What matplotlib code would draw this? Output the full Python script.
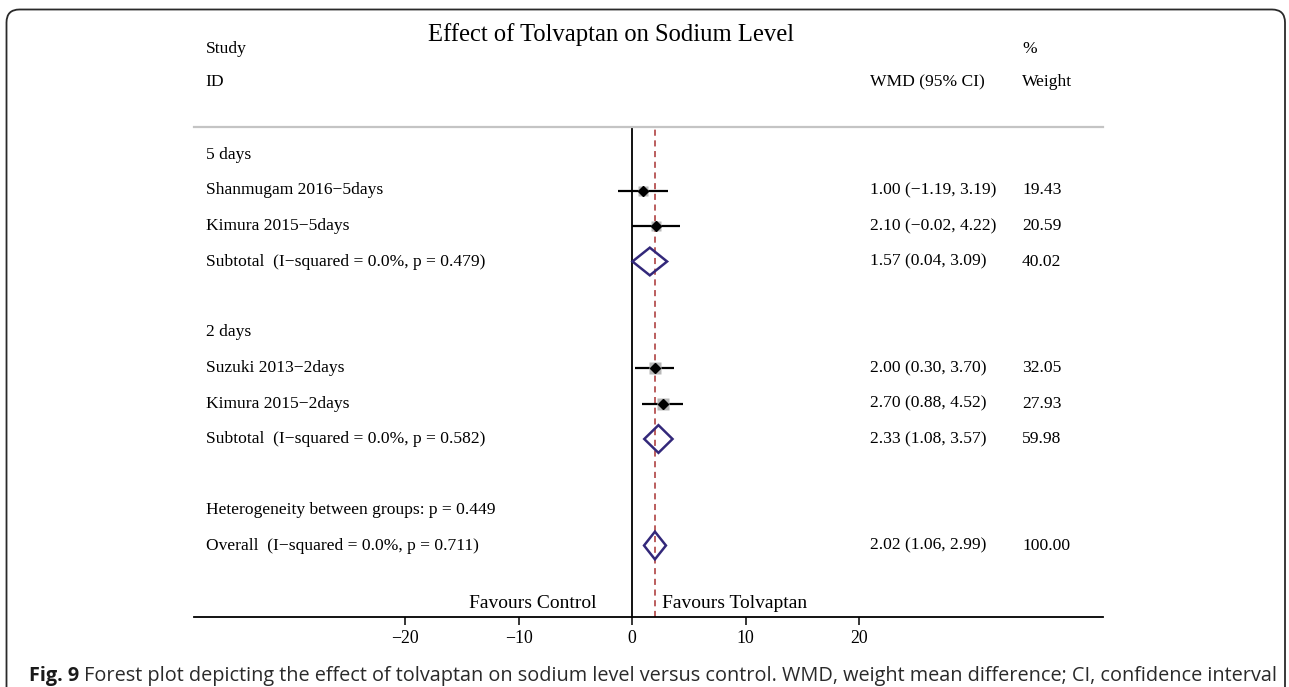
import numpy as np
import matplotlib
matplotlib.use('Agg')
import matplotlib.pyplot as plt
from matplotlib.patches import FancyBboxPatch, Polygon

plt.rcParams['font.family'] = ['Liberation Serif', 'DejaVu Serif']

# --- data ---
group_names = ['5 days', '2 days']
study_names = ['Shanmugam 2016−5days', 'Kimura 2015−5days',
               'Suzuki 2013−2days', 'Kimura 2015−2days']
study_group = [0, 0, 1, 1]
study_wmd = [1.00, 2.10, 2.00, 2.70]
study_lo = [-1.19, -0.02, 0.30, 0.88]
study_hi = [3.19, 4.22, 3.70, 4.52]
study_weight = [19.43, 20.59, 32.05, 27.93]

sub_labels = ['Subtotal  (I−squared = 0.0%, p = 0.479)',
              'Subtotal  (I−squared = 0.0%, p = 0.582)']
sub_wmd = [1.57, 2.33]
sub_lo = [0.04, 1.08]
sub_hi = [3.09, 3.57]
sub_weight = [40.02, 59.98]

het_label = 'Heterogeneity between groups: p = 0.449'
overall_label = 'Overall  (I−squared = 0.0%, p = 0.711)'
overall_wmd = 2.02
overall_lo = 1.06
overall_hi = 2.99
overall_weight = 100.00

xticks = [-20, -10, 0, 10, 20]

NAVY = '#33287a'
MAROON = '#a83232'
FS = 12.6


def ci_text(m, lo, hi):
    s = f"{m:.2f} ({lo:.2f}, {hi:.2f})"
    return s.replace('-', '−')


fig = plt.figure(figsize=(12.89, 6.87), dpi=100)
W, H = 1289, 687

# rounded frame (bottom edge falls outside the picture)
frame = FancyBboxPatch((6.5 / 100, -0.3), (1285 - 6.5) / 100, (H - 9.5) / 100 + 0.3,
                       boxstyle='round,pad=0,rounding_size=0.13',
                       transform=fig.dpi_scale_trans, facecolor='none',
                       edgecolor='#2a2a2a', linewidth=1.3)
fig.add_artist(frame)

ax = fig.add_axes([194 / W, (H - 617) / H, 909 / W, 490 / H])
px_per_unit = 11.35
ax.set_xlim((194 - 632) / px_per_unit, (1103 - 632) / px_per_unit)
row_px = 35.5
ax.set_ylim((617 - 155) / row_px, (127 - 155) / row_px)

for s in ['left', 'right']:
    ax.spines[s].set_visible(False)
ax.spines['top'].set_color('#c4c4c4')
ax.spines['top'].set_linewidth(1.6)
ax.spines['bottom'].set_linewidth(1.3)
ax.set_yticks([])
ax.set_xticks(xticks)
ax.tick_params(axis='x', direction='out', length=6, width=1.1, labelsize=12.8, pad=3.5)

ax.axvline(0, color='black', lw=1.3, zorder=2)
ax.axvline(overall_wmd, color=MAROON, lw=1.1, ls=(0, (4, 3)), zorder=2)

tx = ax.get_yaxis_transform()  # x in axes fraction, y in data
col_label, col_ci, col_w = 0.0129, 0.7442, 0.9109


def row_text(y, label, ci=None, w=None):
    ax.text(col_label, y, label, transform=tx, fontsize=FS, va='center', ha='left', clip_on=False)
    if ci is not None:
        ax.text(col_ci, y, ci, transform=tx, fontsize=FS, va='center', ha='left', clip_on=False)
    if w is not None:
        ax.text(col_w, y, f"{w:.2f}", transform=tx, fontsize=FS, va='center', ha='left', clip_on=False)


def diamond(y, m, lo, hi):
    h = 0.39
    ax.add_patch(Polygon([(lo, y), (m, y - h), (hi, y), (m, y + h)], closed=True,
                         fill=False, edgecolor=NAVY, linewidth=1.8, zorder=4))


y = 0
for g, gname in enumerate(group_names):
    row_text(y, gname)
    y += 1
    for i in range(len(study_names)):
        if study_group[i] != g:
            continue
        ax.plot([study_lo[i], study_hi[i]], [y, y], color='black', lw=1.6,
                solid_capstyle='butt', zorder=3)
        side_px = 12 * np.sqrt(study_weight[i] / max(study_weight))
        ax.plot(study_wmd[i], y, marker='s', ms=side_px * 0.72, color='#b8b8b8',
                mec='none', zorder=3)
        ax.plot(study_wmd[i], y, marker='D', ms=4.6, color='black', zorder=4)
        row_text(y, study_names[i], ci_text(study_wmd[i], study_lo[i], study_hi[i]),
                 study_weight[i])
        y += 1
    diamond(y, sub_wmd[g], sub_lo[g], sub_hi[g])
    row_text(y, sub_labels[g], ci_text(sub_wmd[g], sub_lo[g], sub_hi[g]), sub_weight[g])
    y += 2

row_text(y, het_label)
y += 1
diamond(y, overall_wmd, overall_lo, overall_hi)
row_text(y, overall_label, ci_text(overall_wmd, overall_lo, overall_hi), overall_weight)

# headers
y_top = (49 - 155) / row_px
y_mid = (82 - 155) / row_px
ax.text(col_label, y_top, 'Study', transform=tx, fontsize=FS, va='center', clip_on=False)
ax.text(col_label, y_mid, 'ID', transform=tx, fontsize=FS, va='center', clip_on=False)
ax.text(col_ci, y_mid, 'WMD (95% CI)', transform=tx, fontsize=FS, va='center', clip_on=False)
ax.text(col_w, y_top, '%', transform=tx, fontsize=FS, va='center', clip_on=False)
ax.text(col_w, y_mid, 'Weight', transform=tx, fontsize=FS, va='center', clip_on=False)

fig.text(611 / W, 1 - 35 / H, 'Effect of Tolvaptan on Sodium Level', fontsize=17.7,
         ha='center', va='center')

# favours labels
y_fav = (604 - 155) / row_px
ax.text(-3.1, y_fav, 'Favours Control', fontsize=14, ha='right', va='center', clip_on=False)
ax.text(2.6, y_fav, 'Favours Tolvaptan', fontsize=14, ha='left', va='center', clip_on=False)

# caption
cap_y = 1 - 676 / H
cap_font = ['Open Sans', 'DejaVu Sans']
t1 = fig.text(29 / W, cap_y, 'Fig. 9', fontsize=14.3, fontweight='bold',
              family=cap_font, va='center', ha='left', color='#1a1a1a')
r = fig.canvas.get_renderer()
bb = t1.get_window_extent(renderer=r)
fig.text((bb.x1 + 5) / W, cap_y,
         'Forest plot depicting the effect of tolvaptan on sodium level versus control. '
         'WMD, weight mean difference; CI, confidence interval',
         fontsize=14.3, family=cap_font, va='center', ha='left', color='#2a2a2a')

fig.savefig('out.png', dpi=100)
